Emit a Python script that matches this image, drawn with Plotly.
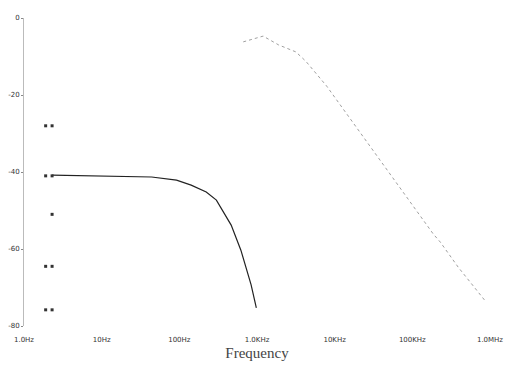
import plotly.graph_objects as go

# Lower trace (low-pass response, dB vs Hz)
low_freq = [2.3, 10, 44, 92, 142, 222, 300, 465, 620, 840, 980]
low_db = [-40.8, -41.0, -41.3, -42.1, -43.4, -45.2, -47.3, -53.8, -60.3, -69.3, -75.3]

# Upper trace (faint, partially visible)
up_freq = [665, 1200, 1900, 3160, 4240, 7900, 186000, 229000, 389000, 870000]
up_db = [-6.2, -4.7, -7.0, -8.8, -11.2, -17.7, -56.1, -58.2, -64.7, -73.5]

# Small marker glyphs near the left edge
mk_freq = [1.9, 2.3, 1.9, 2.3, 2.3, 1.9, 2.3, 1.9, 2.3]
mk_db = [-28, -28, -41, -41, -51, -64.5, -64.5, -75.8, -75.8]

x_tickvals = [1, 10, 100, 1000, 10000, 100000, 1000000]
x_ticktext = ["1.0Hz", "10Hz", "100Hz", "1.0KHz", "10KHz", "100KHz", "1.0MHz"]
y_tickvals = [0, -20, -40, -60, -80]
y_ticktext = ["0", "-20", "-40", "-60", "-80"]

fig = go.Figure()
fig.add_trace(go.Scatter(x=up_freq, y=up_db, mode="lines",
                         line=dict(color="#a0a0a0", width=1, dash="dot"),
                         showlegend=False))
fig.add_trace(go.Scatter(x=low_freq, y=low_db, mode="lines",
                         line=dict(color="#222222", width=1.2),
                         showlegend=False))
fig.add_trace(go.Scatter(x=mk_freq, y=mk_db, mode="markers",
                         marker=dict(symbol="square", size=3, color="#333333"),
                         showlegend=False))

fig.update_layout(
    width=514, height=369,
    margin=dict(l=16, r=32, t=10, b=51, autoexpand=False),
    paper_bgcolor="white", plot_bgcolor="white",
    font=dict(family="DejaVu Sans", size=7, color="#333333"),
    xaxis=dict(type="log", range=[0, 6], tickvals=x_tickvals, ticktext=x_ticktext,
               showgrid=False, zeroline=False, showline=False, automargin=False,
               ticks="", ticklabelstandoff=8,
               title=dict(text="Frequency", standoff=4,
                          font=dict(family="Liberation Serif", size=15, color="#444444"))),
    yaxis=dict(range=[-80, 0], tickvals=y_tickvals, ticktext=y_ticktext,
               showgrid=False, zeroline=False, automargin=False,
               showline=True, linecolor="#bbbbbb", linewidth=1,
               ticks="outside", ticklen=2, tickcolor="#888888"),
)

fig.write_html("out.html")
